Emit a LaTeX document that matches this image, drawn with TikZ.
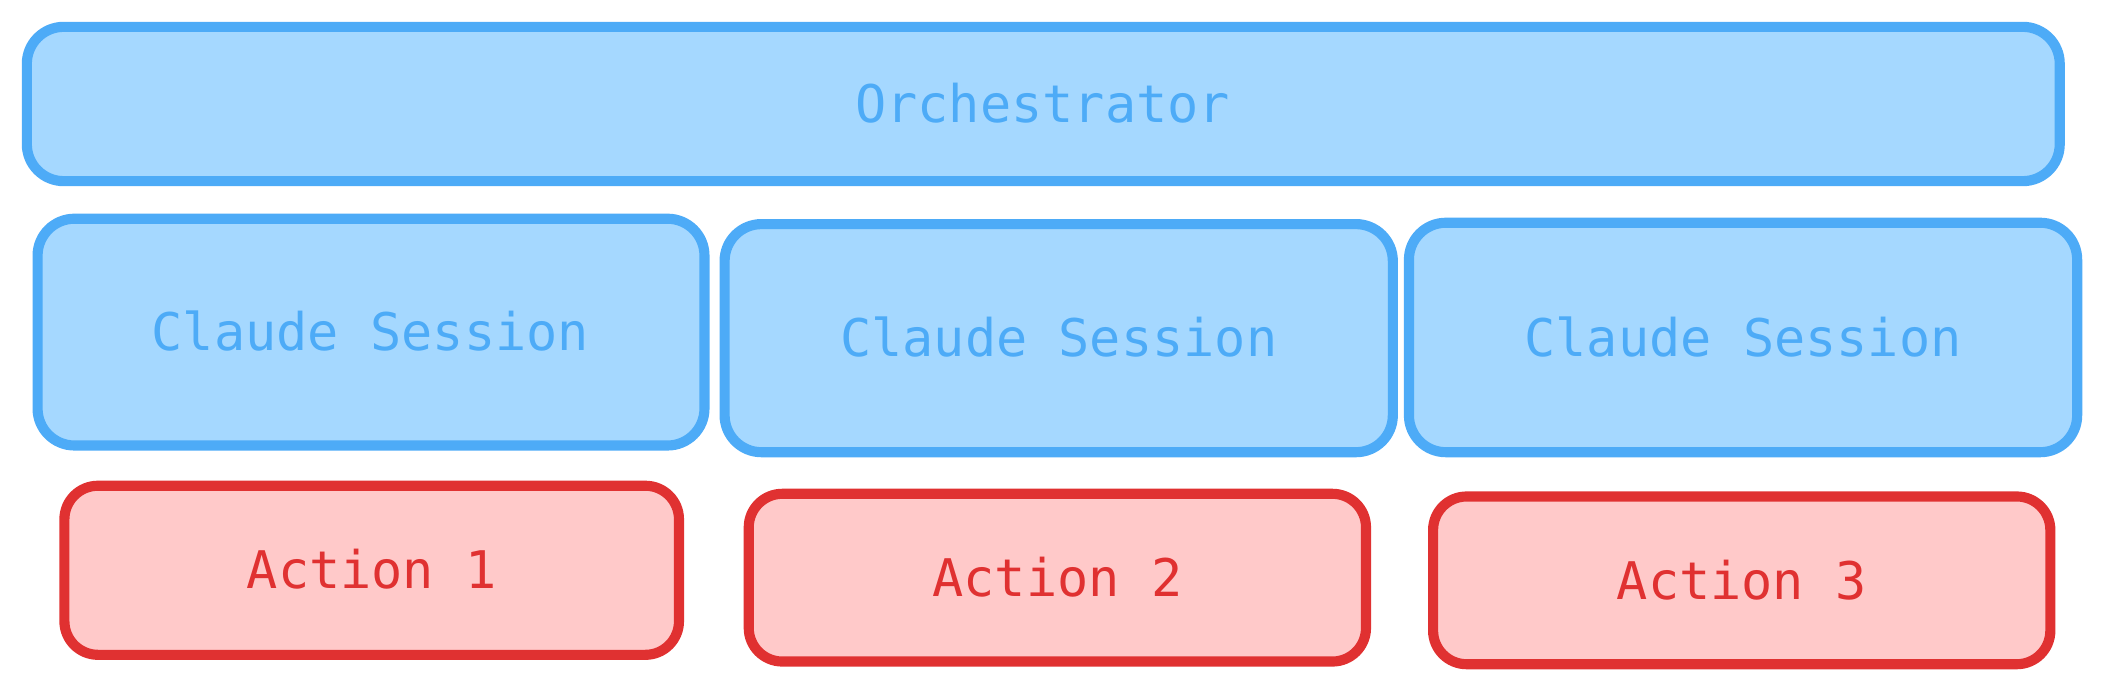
\documentclass[tikz,border=0pt]{standalone}
\usepackage{fontspec}
\setmonofont{DejaVu Sans Mono}
\definecolor{bfill}{HTML}{A5D8FF}
\definecolor{bline}{HTML}{4DABF7}
\definecolor{rfill}{HTML}{FFC9C9}
\definecolor{rline}{HTML}{E03131}
\begin{document}
\begin{tikzpicture}[x=0.02cm,y=-0.02cm,
  bluebox/.style={draw=bline,fill=bfill,line width=4.3pt,rounded corners=0.55cm},
  redbox/.style={draw=rline,fill=rfill,line width=4.3pt,rounded corners=0.5cm},
  btxt/.style={text=bline,font=\ttfamily\fontsize{22}{26}\selectfont},
  rtxt/.style={text=rline,font=\ttfamily\fontsize{22}{26}\selectfont}]
\useasboundingbox (0,0) rectangle (1568,517);
\draw[bluebox] (20,20) rectangle (1535,135);
\node[btxt] (orch) at (777,77) {Orchestrator};
\draw[bluebox] (28,163) rectangle (525,332);
\node[btxt] (s1) at (276,247) {Claude Session};
\draw[bluebox] (540,167) rectangle (1038,337);
\node[btxt] (s2) at (789,251) {Claude Session};
\draw[bluebox] (1050,166) rectangle (1548,337);
\node[btxt] (s3) at (1299,251) {Claude Session};
\draw[redbox] (48,362) rectangle (506,488);
\node[rtxt] (a1) at (277,424) {Action 1};
\draw[redbox] (558,368) rectangle (1018,493);
\node[rtxt] (a2) at (788,430) {Action 2};
\draw[redbox] (1068,370) rectangle (1528,495);
\node[rtxt] (a3) at (1298,432) {Action 3};
\end{tikzpicture}
\end{document}
